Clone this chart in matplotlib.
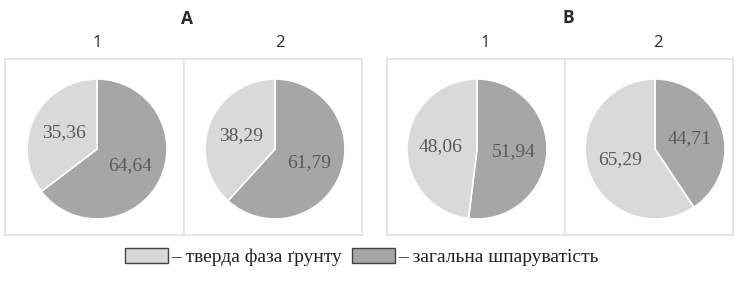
import numpy as np
import matplotlib.pyplot as plt
from matplotlib.patches import Patch

# дані з рисунка
groups = ["A", "B"]
subplots = ["1", "2"]
solid = [35.36, 38.29, 48.06, 65.29]      # тверда фаза ґрунту
porosity = [64.64, 61.79, 51.94, 44.71]   # загальна шпаруватість
labels = ["– тверда фаза ґрунту", "– загальна шпаруватість"]

light = "#d9d9d9"
dark = "#a6a6a6"
txt = "#595959"

W, H = 738, 282
fig = plt.figure(figsize=(W / 100, H / 100), dpi=100)

# рамки панелей у пікселях (ліво, право), верх/низ спільні
boxes = [(5, 184), (184, 362), (387, 565), (565, 733)]
centers_px = [97, 275, 477, 655]
top, bottom = 59, 235
R = 70.0  # радіус у пікселях

for i, (x0, x1) in enumerate(boxes):
    ax = fig.add_axes([x0 / W, 1 - bottom / H, (x1 - x0) / W, (bottom - top) / H])
    vals = [porosity[i], solid[i]]
    wedges, _ = ax.pie(vals, colors=[dark, light], startangle=90, counterclock=False,
                       wedgeprops=dict(edgecolor="white", linewidth=1.2),
                       radius=1, center=(0, 0))
    # підписи
    for w, v in zip(wedges, vals):
        ang = np.deg2rad((w.theta1 + w.theta2) / 2)
        d = 0.52
        ax.text(d * np.cos(ang), d * np.sin(ang), f"{v:.2f}".replace(".", ","),
                ha="center", va="center", fontsize=14, color=txt,
                family="Liberation Serif")
    cx = (centers_px[i] - x0) / R
    cy = (149 - top) / R
    ax.set_xlim(-cx, (x1 - x0) / R - cx)
    ax.set_ylim(-((bottom - top) / R - cy), cy)
    ax.set_aspect("auto")
    ax.set_frame_on(True)
    for s in ax.spines.values():
        s.set_color("#e2e2e2")
        s.set_linewidth(1.2)
    ax.set_xticks([])
    ax.set_yticks([])

# заголовки
fig.text(187 / W, 1 - 19 / H, groups[0], ha="center", va="center", fontsize=12.5,
         fontweight="bold", color="#2a2a2a", family="Open Sans")
fig.text(568 / W, 1 - 18 / H, groups[1], ha="center", va="center", fontsize=12.5,
         fontweight="bold", color="#2a2a2a", family="Open Sans")
for xp, s in zip([97, 280, 485, 658], subplots * 2):
    fig.text(xp / W, 1 - 43 / H, s, ha="center", va="center", fontsize=12,
             color="#2a2a2a", family="Open Sans")

handles = [Patch(facecolor=light, edgecolor="#444444", linewidth=1),
           Patch(facecolor=dark, edgecolor="#444444", linewidth=1)]
fig.legend(handles, labels, loc="center", bbox_to_anchor=(362 / W, 1 - 257 / H),
           ncol=2, frameon=False, prop=dict(family="Liberation Serif", size=14),
           handlelength=2.2, handleheight=0.85, handletextpad=0.15, columnspacing=0.55,
           labelcolor="#222222")

fig.savefig("out.png", dpi=100)
